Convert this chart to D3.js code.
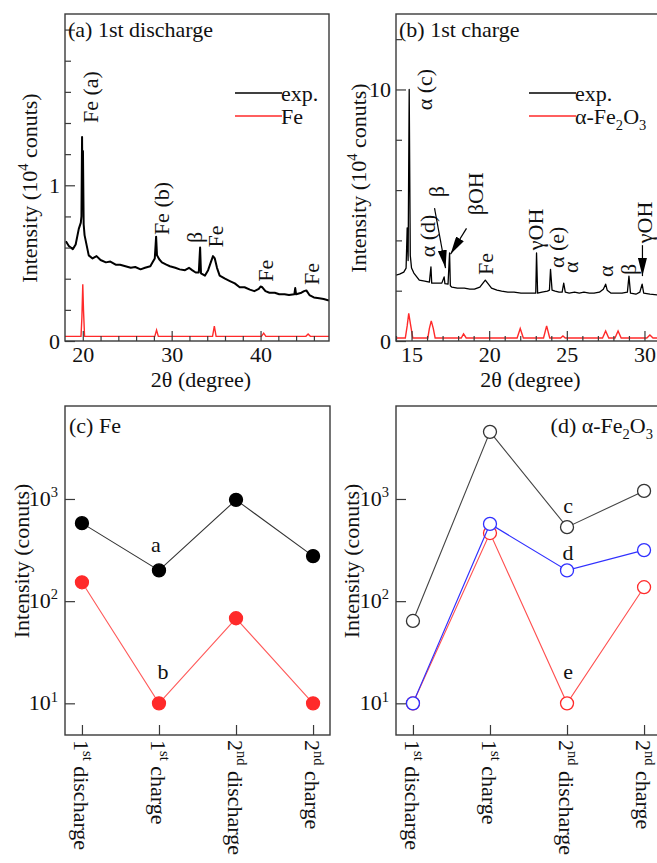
<!DOCTYPE html>
<html>
<head>
<meta charset="utf-8">
<script src="https://cdn.jsdelivr.net/npm/d3@7"></script>
<style>
  body { margin: 0; background: #fff; }
  svg { display: block; font-family: "Liberation Serif", "Times New Roman", serif; }
  text { fill: #111; }
</style>
</head>
<body>
<div class="visHolder"></div>
<script>
// ========================================
// Data
// ========================================
// (a) 1st discharge: [2theta, intensity (1e4 counts)]
const dischargeExp = [
  [18.1,0.64],[18.43,0.61],[18.88,0.59],[19.2,0.62],[19.55,0.72],[19.78,0.76],
  [19.85,0.8],[19.92,1.31],[19.97,0.9],[20.02,1.22],[20.1,0.75],[20.2,0.68],
  [20.67,0.55],[21.1,0.53],[21.55,0.545],[22.0,0.52],[22.6,0.505],[23.1,0.51],
  [23.7,0.49],[24.2,0.49],[24.8,0.48],[25.4,0.47],[25.9,0.475],[26.5,0.46],
  [27.0,0.47],[27.6,0.48],[27.9,0.51],[28.1,0.53],[28.25,0.67],[28.35,0.55],
  [28.6,0.525],[28.9,0.505],[29.4,0.49],[29.8,0.48],[30.4,0.47],[30.9,0.46],
  [31.5,0.455],[31.95,0.47],[32.3,0.455],[32.7,0.44],[33.05,0.44],[33.2,0.6],
  [33.3,0.435],[33.75,0.42],[34.1,0.455],[34.4,0.505],[34.65,0.545],[34.85,0.53],
  [35.1,0.47],[35.4,0.42],[36.0,0.4],[36.55,0.385],[37.1,0.37],[37.65,0.345],
  [38.2,0.345],[38.8,0.33],[39.3,0.32],[39.8,0.335],[40.0,0.35],[40.2,0.345],
  [40.55,0.32],[41.0,0.31],[41.6,0.31],[42.1,0.3],[42.7,0.3],[43.2,0.295],
  [43.8,0.3],[43.9,0.34],[44.0,0.3],[44.6,0.31],[44.9,0.32],[45.15,0.325],
  [45.5,0.295],[46.0,0.28],[46.6,0.275],[47.1,0.27],[47.7,0.26]
];
const dischargeFe = [
  [18,0.03],[19.8,0.03],[19.9,0.15],[20.0,0.365],[20.08,0.2],[20.2,0.03],
  [28.1,0.03],[28.3,0.07],[28.5,0.03],[34.6,0.03],[34.8,0.095],[35.0,0.03],
  [40.1,0.03],[40.35,0.05],[40.6,0.03],[45.1,0.03],[45.35,0.045],[45.6,0.03],[47.7,0.03]
];
// (b) 1st charge
const chargeExp = [
  [14.0,2.62],[14.23,2.66],[14.5,2.74],[14.65,2.9],[14.72,4.5],[14.78,3.2],
  [14.85,10.0],[14.92,3.4],[15.0,2.9],[15.15,2.7],[15.5,2.42],[15.85,2.38],
  [16.15,2.34],[16.25,2.95],[16.3,2.3],[16.6,2.3],[16.95,2.3],[17.1,2.55],
  [17.15,2.28],[17.35,2.26],[17.45,3.5],[17.5,2.2],[17.6,2.14],[17.95,2.1],
  [18.4,2.1],[18.75,2.06],[19.05,2.06],[19.4,2.14],[19.6,2.3],[19.75,2.42],
  [19.9,2.3],[20.15,2.1],[20.5,2.02],[20.8,1.98],[21.2,1.94],[21.6,1.94],
  [22.05,1.9],[22.6,1.9],[23.0,1.9],[23.05,3.5],[23.12,1.9],[23.4,1.94],
  [23.75,1.98],[23.88,2.02],[23.95,2.85],[24.05,2.02],[24.25,1.98],[24.5,1.94],
  [24.7,1.94],[24.8,2.3],[24.9,1.94],[25.15,1.9],[25.5,1.94],[25.8,1.9],
  [26.1,1.94],[26.45,1.9],[26.75,1.9],[27.1,1.94],[27.35,2.06],[27.5,2.26],
  [27.6,2.02],[27.85,1.9],[28.25,1.9],[28.55,1.9],[28.9,1.94],[29.0,2.58],
  [29.1,1.9],[29.45,1.86],[29.7,1.94],[29.85,2.26],[29.95,1.9],[30.35,1.86],[31.0,1.82]
];
const chargeFe2O3 = [
  [14.0,0.12],[14.6,0.12],[14.72,0.6],[14.82,1.1],[14.95,0.6],[15.08,0.12],
  [16.05,0.12],[16.15,0.5],[16.27,0.8],[16.4,0.5],[16.52,0.12],
  [18.2,0.12],[18.35,0.28],[18.52,0.12],[21.8,0.12],[22.0,0.5],[22.2,0.12],
  [23.5,0.12],[23.7,0.6],[23.9,0.12],[24.6,0.12],[24.75,0.2],[24.9,0.12],
  [27.3,0.12],[27.5,0.4],[27.7,0.12],[28.1,0.12],[28.3,0.4],[28.5,0.12],
  [30.15,0.12],[30.35,0.24],[30.55,0.12],[31.0,0.12]
];

// peak labels [text, 2theta, intensity where the rotated text starts]
const peaksA = [['Fe (a)',20.8,1.40],['Fe (b)',28.8,0.68],['β',32.5,0.63],['Fe',34.9,0.60],['Fe',40.55,0.38],['Fe',45.7,0.36]];
const peaksB = [['α (c)',15.84,9.17],['α (d)',16.03,3.33],['β',16.6,5.71],['βOH',19.12,5.0],['Fe',19.77,2.62],
  ['γOH',22.95,3.61],['α (e)',24.34,2.9],['α',25.24,2.7],['α',27.5,2.54],['β',28.97,2.62],['γOH',30.0,3.89]];
// arrows [from 2theta, from I, to 2theta, to I]
const arrowsB = [[16.48,5.28,17.19,2.9],[18.54,4.48,17.51,3.45],[29.87,3.81,29.87,2.58]];

// (c), (d) peak intensity vs step (counts)
const stepNum  = ['1', '1', '2', '2'];
const stepSup  = ['st', 'st', 'nd', 'nd'];
const stepName = ['discharge', 'charge', 'discharge', 'charge'];
const steps    = stepNum.map((d, i) => d + stepSup[i] + ' ' + stepName[i]);
const feA    = [580, 200, 980, 276];
const feB    = [153, 10, 68, 10];
const alphaC = [64, 4540, 530, 1200];
const alphaD = [10, 570, 200, 316];
const alphaE = [10, 464, 10, 137];

// ========================================
// Layout
// ========================================
const W = 657, H = 863, fs = 22, ink = '#3a3a3a';
const red = '#ff2a2a', blue = '#3030ff';

const svg = d3.select('.visHolder').append('svg')
  .attr('width', W).attr('height', H);

const defs = svg.append('defs');
defs.append('marker')
  .attr('id', 'head').attr('viewBox', '0 0 18 9')
  .attr('refX', 18).attr('refY', 4.5)
  .attr('markerWidth', 18).attr('markerHeight', 9)
  .attr('markerUnits', 'userSpaceOnUse').attr('orient', 'auto')
  .append('path').attr('d', 'M0,0 L18,4.5 L0,9 Z').attr('fill', '#000');

// text with sub/superscript pieces
function rich(sel, parts, size) {
  let shift = 0;
  parts.forEach(p => {
    const target = p.sup ? -0.4 * size : p.sub ? 0.28 * size : 0;
    sel.append('tspan')
      .attr('dy', target - shift)
      .attr('font-size', (p.sup || p.sub) ? size * 0.66 : size)
      .text(p.t);
    shift = target;
  });
  return sel;
}

function frame(x0, y0, x1, y1, id) {
  svg.append('clipPath').attr('id', id)
    .append('rect').attr('x', x0).attr('y', y0).attr('width', x1 - x0).attr('height', y1 - y0);
  svg.append('rect')
    .attr('x', x0).attr('y', y0).attr('width', x1 - x0).attr('height', y1 - y0)
    .attr('fill', 'none').attr('stroke', ink).attr('stroke-width', 1.4);
}

function ticks(axis, pos, vals, len, fmt, pad) {
  svg.append('g')
    .attr('transform', pos)
    .call(axis.tickValues(vals).tickSize(-len).tickPadding(pad || 8).tickFormat(fmt))
    .call(g => g.select('.domain').remove())
    .call(g => g.selectAll('line').attr('stroke', ink).attr('stroke-width', 1.2))
    .call(g => g.selectAll('text').attr('font-size', fs).attr('font-family', 'Liberation Serif').attr('fill', '#111'));
}

// ========================================
// Top panels: XRD patterns
// ========================================
function spectrum(opt) {
  const x = d3.scaleLinear().domain(opt.xDom).range([opt.x0, opt.x1]);
  const y = d3.scaleLinear().domain(opt.yDom).range([341, 14]);
  const line = d3.line().x(d => x(d[0])).y(d => y(d[1]));
  const g = svg.append('g').attr('clip-path', 'url(#' + opt.id + ')');

  frame(opt.x0, 14, opt.x1, 341, opt.id);

  g.append('path').datum(opt.ref).attr('d', line)
    .attr('fill', 'none').attr('stroke', red).attr('stroke-width', 1.4);
  g.append('path').datum(opt.exp).attr('d', line)
    .attr('fill', 'none').attr('stroke', '#000').attr('stroke-width', opt.expW)
    .attr('stroke-linejoin', 'round');

  // x axis
  ticks(d3.axisBottom(x), 'translate(0,341)', opt.xMinor, 5, '');
  ticks(d3.axisBottom(x), 'translate(0,341)', opt.xMajor, 10, d3.format('d'), 5);
  // y axis
  ticks(d3.axisLeft(y), 'translate(' + opt.x0 + ',0)', opt.yMinor, 6, '');
  ticks(d3.axisLeft(y), 'translate(' + opt.x0 + ',0)', opt.yMajor, 10, d => opt.yLab.includes(d) ? d : '', 5);

  // peak labels
  g.selectAll('text.peak').data(opt.peaks).enter().append('text')
    .attr('class', 'peak')
    .attr('transform', d => 'translate(' + x(d[1]) + ',' + y(d[2]) + ') rotate(-90)')
    .attr('dy', '0.35em').attr('font-size', fs)
    .text(d => d[0]);

  (opt.arrows || []).forEach(a => {
    svg.append('line')
      .attr('x1', x(a[0])).attr('y1', y(a[1])).attr('x2', x(a[2])).attr('y2', y(a[3]))
      .attr('stroke', '#000').attr('stroke-width', 1.2).attr('marker-end', 'url(#head)');
  });

  // title
  rich(svg.append('text').attr('x', opt.x0 + 3).attr('y', 37), opt.title, fs);

  // legend
  const lx = opt.x0 + opt.legX;
  [['#000', [{ t: 'exp.' }], 93], [red, opt.refName, 116]].forEach(l => {
    svg.append('line').attr('x1', lx).attr('x2', lx + 47).attr('y1', l[2]).attr('y2', l[2])
      .attr('stroke', l[0]).attr('stroke-width', 1.4);
    rich(svg.append('text').attr('x', lx + 46).attr('y', l[2] + 8), l[1], fs);
  });

  // axis labels
  svg.append('text')
    .attr('x', (opt.x0 + Math.min(opt.x1, W)) / 2 + 4).attr('y', 387)
    .attr('text-anchor', 'middle').attr('font-size', fs)
    .text('2θ (degree)');
  rich(svg.append('text')
    .attr('transform', 'translate(' + opt.labX + ',' + opt.labY + ') rotate(-90)')
    .attr('text-anchor', 'middle'),
    [{ t: 'Intensity (10' }, { t: '4', sup: true }, { t: ' conuts)' }], fs);
}

spectrum({
  id: 'clipA', x0: 65, x1: 329, xDom: [18, 47.7], yDom: [0, 2.1],
  exp: dischargeExp, ref: dischargeFe, expW: 2,
  xMajor: [20, 30, 40], xMinor: d3.range(22, 48, 2).filter(v => v % 10),
  yMajor: [0, 1, 2], yMinor: d3.range(0.2, 2.1, 0.2).map(v => +v.toFixed(1)).filter(v => v !== 1 && v !== 2),
  yLab: [0, 1], peaks: peaksA, legX: 170,
  title: [{ t: '(a) 1st discharge' }], refName: [{ t: 'Fe' }],
  labX: 37, labY: 188
});

spectrum({
  id: 'clipB', x0: 396, x1: 660, xDom: [14, 31], yDom: [0, 13],
  exp: chargeExp, ref: chargeFe2O3, expW: 1.3,
  xMajor: [15, 20, 25, 30], xMinor: d3.range(14, 31, 1).filter(v => v % 5),
  yMajor: [0, 10], yMinor: [2, 4, 6, 8, 12],
  yLab: [0, 10], peaks: peaksB, arrows: arrowsB, legX: 133,
  title: [{ t: '(b) 1st charge' }],
  refName: [{ t: 'α-Fe' }, { t: '2', sub: true }, { t: 'O' }, { t: '3', sub: true }],
  labX: 366, labY: 178
});

// ========================================
// Bottom panels: peak intensity vs step (log scale)
// ========================================
const yLog = d3.scaleLog().domain([Math.pow(10, 0.69), Math.pow(10, 3.91)]).range([735, 406]);

function history(opt) {
  const x = d3.scalePoint().domain(steps).range([opt.x0, opt.x0 + 265]).padding(0.22);
  const line = d3.line().x((d, i) => x(steps[i])).y(d => yLog(d));
  const g = svg.append('g').attr('clip-path', 'url(#' + opt.id + ')');

  frame(opt.x0, 406, opt.x0 + 265, 735, opt.id);

  opt.series.forEach(s => {
    g.append('path').datum(s.v).attr('d', line)
      .attr('fill', 'none').attr('stroke', s.line).attr('stroke-width', 1.1);
    g.selectAll(null).data(s.v).enter().append('circle')
      .attr('cx', (d, i) => x(steps[i])).attr('cy', d => yLog(d)).attr('r', 6.5)
      .attr('fill', s.fill).attr('stroke', s.stroke).attr('stroke-width', 1.3);
  });

  // letters
  opt.tags.forEach(t => {
    svg.append('text').attr('x', x(steps[t[1]]) + t[3]).attr('y', yLog(t[2]))
      .attr('dy', '0.3em').attr('text-anchor', 'middle').attr('font-size', fs).text(t[0]);
  });

  // y ticks 10^n
  ticks(d3.axisLeft(yLog), 'translate(' + opt.x0 + ',0)', [10, 100, 1000], 10, '');
  [10, 100, 1000].forEach(v => {
    rich(svg.append('text').attr('x', opt.x0 - 7).attr('y', yLog(v) + 7).attr('text-anchor', 'end'),
      [{ t: '10' }, { t: String(Math.log10(v)), sup: true }], fs);
  });

  // x ticks + rotated category labels
  ticks(d3.axisBottom(x), 'translate(0,735)', steps, 10, '');
  steps.forEach((s, i) => {
    rich(svg.append('text')
      .attr('transform', 'translate(' + (x(s) - 8) + ',740) rotate(90)'),
      [{ t: stepNum[i] }, { t: stepSup[i], sup: true }, { t: ' ' + stepName[i] }], fs);
  });

  // title and y label
  rich(svg.append('text').attr('x', opt.titleX).attr('y', 433).attr('text-anchor', opt.titleAnchor),
    opt.title, fs);
  svg.append('text')
    .attr('transform', 'translate(' + opt.labX + ',561) rotate(-90)')
    .attr('text-anchor', 'middle').attr('font-size', fs)
    .text('Intensity (conuts)');
}

history({
  id: 'clipC', x0: 65,
  series: [
    { v: feB, line: '#ff5a5a', fill: red, stroke: red },
    { v: feA, line: '#333', fill: '#000', stroke: '#000' }
  ],
  tags: [['a', 1, 355, -3], ['b', 1, 20, 4]],
  title: [{ t: '(c) Fe' }], titleX: 69, titleAnchor: 'start', labX: 29
});

history({
  id: 'clipD', x0: 396,
  series: [
    { v: alphaC, line: '#444', fill: '#fff', stroke: '#333' },
    { v: alphaE, line: '#ff5050', fill: '#fff', stroke: red },
    { v: alphaD, line: blue, fill: '#fff', stroke: blue }
  ],
  tags: [['c', 2, 850, 1], ['d', 2, 296, 1], ['e', 2, 20, 1]],
  title: [{ t: '(d) α-Fe' }, { t: '2', sub: true }, { t: 'O' }, { t: '3', sub: true }],
  titleX: 653, titleAnchor: 'end', labX: 359
});
</script>
</body>
</html>
